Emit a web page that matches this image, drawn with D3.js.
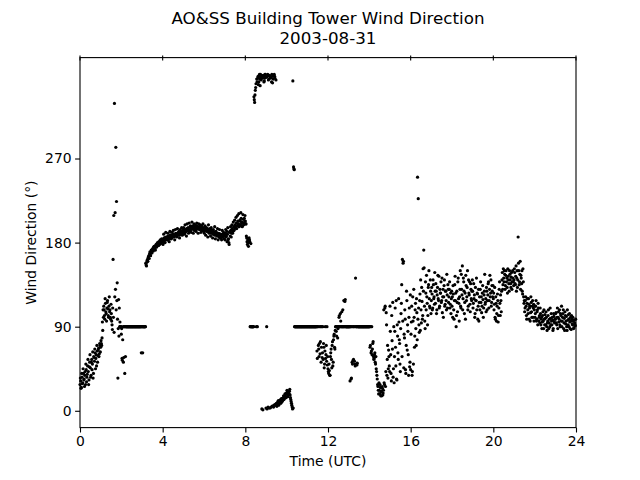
<!DOCTYPE html>
<html><head><meta charset="utf-8">
<script src="https://cdn.jsdelivr.net/npm/d3@7"></script>
<style>
body{margin:0;background:#fff}
svg{display:block}
text{font-family:"DejaVu Sans",sans-serif;fill:#000}
</style>
</head><body>
<svg id="chart" width="640" height="480"></svg>
<script>
const titleLines = ["AO&SS Building Tower Wind Direction", "2003-08-31"];
const xLabel = "Time (UTC)";
const yLabel = "Wind Direction (°)";
const xTicks = [0, 4, 8, 12, 16, 20, 24];
const yTicks = [0, 90, 180, 270];
const readingsPerHour = 30; // per series: even-minute and odd-minute readings

// wind direction (degrees), even-minute readings, grouped by 4-hour blocks
const evenMin00to04 = [
  28,32,25,36,30,40,34,38,28,44,36,48,42,33,52,46,38,55,50,35,58,53,62,56,48,64,59,67,61,70,
  68,72,78,86,100,108,98,115,104,110,118,102,112,106,100,114,96,87,162,209,329,212,282,224,137,35,119,110,95,90,
  82,56,76,52,90,40,58,90,90,90,90,90,90,90,90,90,90,90,90,90,90,90,90,90,90,90,90,90,90,62,
  90,62,90,90,90,90,156,159,162,164,166,168,167,170,172,171,174,175,173,176,177,175,178,179,177,180,181,179,182,181
];
const evenMin04to08 = [
  182,184,181,185,183,186,184,183,187,185,184,188,186,185,187,189,186,188,187,190,188,187,189,191,188,190,189,192,190,191,
  191,193,190,194,192,195,193,196,194,192,197,195,194,196,198,195,193,197,196,194,198,196,195,197,194,196,198,195,193,196,
  195,193,196,194,192,195,193,191,194,192,190,193,191,189,192,190,188,191,189,187,190,188,186,189,187,185,188,186,189,187,
  188,190,186,192,189,183,180,191,187,193,190,195,192,197,194,199,196,201,198,203,200,197,204,199,206,202,198,205,201,203
];
const evenMin08to12 = [
  203,200,185,178,182,180,183,90,179,90,90,90,90,333,338,346,90,352,356,349,358,355,360,354,2,357,359,352,356,360,
  3,90,358,4,355,359,3,357,352,5,358,4,360,356,6,8,5,9,11,8,10,12,9,13,11,14,12,15,17,14,
  18,20,16,19,21,17,12,8,4,353,261,258,90,90,90,90,90,90,90,90,90,90,90,90,90,90,90,90,90,90,
  90,90,90,90,90,90,90,90,90,90,90,90,90,90,64,90,70,58,90,74,52,90,62,55,68,50,90,60,53,49
];
const evenMin12to16 = [
  45,40,43,38,62,55,70,48,76,82,66,90,85,90,78,90,100,90,104,90,106,90,90,118,90,119,90,90,90,90,
  90,90,32,90,35,52,90,55,90,50,142,90,49,90,90,90,90,90,90,90,90,90,90,90,90,90,90,90,90,90,
  90,68,90,64,60,72,58,56,62,50,45,38,28,22,30,18,25,20,16,24,19,108,28,112,42,92,55,35,65,48,
  112,60,32,75,116,45,30,85,68,118,33,80,55,95,72,42,104,135,162,158,46,78,98,40,128,65,85,38,110,52
];
const evenMin16to20 = [
  44,95,38,122,50,100,80,115,70,105,250,227,92,118,86,108,132,98,152,172,112,88,126,145,115,102,135,120,110,128,
  118,125,110,135,122,148,115,128,108,132,120,144,112,126,138,118,105,130,122,140,114,128,108,124,135,116,130,110,126,120,
  112,100,125,98,135,118,90,128,106,142,115,122,150,110,130,155,120,138,104,126,145,118,132,108,140,124,114,136,120,128,
  128,115,120,100,132,118,108,125,112,96,122,130,116,105,126,119,110,128,114,120,132,108,124,138,118,145,126,112,134,122
];
const evenMin20to24 = [
  120,108,132,98,115,104,125,95,110,138,102,118,128,148,135,142,150,130,145,138,132,152,140,128,146,136,143,130,150,138,
  140,148,135,155,142,132,186,150,138,160,145,136,128,152,122,118,110,122,102,115,108,120,98,112,105,116,100,118,110,96,
  112,104,118,98,108,115,96,102,110,92,100,95,106,88,98,103,92,100,86,96,108,94,90,99,104,92,97,88,101,94,
  98,105,92,110,100,95,108,90,102,112,96,104,88,99,106,93,101,86,97,103,90,95,100,87,98,92,96,89,94,91
];

// wind direction (degrees), odd-minute readings
const oddMin00to04 = [
  35,24,40,29,45,33,26,42,50,31,39,55,28,47,60,36,52,44,63,40,57,66,45,60,70,52,65,58,72,63,
  75,70,95,108,112,102,120,106,96,116,109,100,122,108,98,104,92,110,100,84,122,130,108,118,98,88,80,90,90,90,
  88,54,90,57,90,90,90,90,90,90,90,90,90,90,90,90,90,90,90,90,90,90,90,90,90,90,90,90,90,90,
  90,90,90,90,90,158,155,161,160,165,163,170,166,172,169,173,171,176,174,172,178,176,180,177,181,178,183,180,184,182
];
const oddMin04to08 = [
  178,189,185,180,191,186,183,190,187,181,192,188,184,191,186,193,188,183,194,190,186,195,189,192,185,194,190,196,188,193,
  196,189,199,192,187,200,195,190,201,193,198,191,202,196,190,200,194,199,192,201,196,190,200,194,199,191,198,193,200,192,
  190,198,188,196,193,186,199,190,195,187,196,192,185,194,189,197,184,192,188,195,183,190,194,185,189,183,193,186,191,184,
  183,194,187,181,196,184,178,192,197,186,199,190,202,193,204,196,207,195,209,200,211,198,203,212,201,197,210,199,206,209
];
const oddMin08to12 = [
  200,187,181,184,176,185,181,90,90,90,90,90,336,330,343,350,355,90,358,352,360,348,357,359,356,1,358,353,360,357,
  357,2,360,354,3,358,356,4,360,351,355,6,358,7,354,5,7,10,6,9,11,8,13,10,12,16,13,18,15,19,
  22,15,20,18,23,14,10,6,2,3,259,90,90,90,90,90,90,90,90,90,90,90,90,90,90,90,90,90,90,90,
  90,90,90,90,90,90,90,90,90,90,90,90,90,90,56,90,66,72,61,90,68,57,90,72,46,64,56,70,90,58
];
const oddMin12to16 = [
  42,50,38,58,66,46,74,52,80,68,86,90,80,90,88,90,102,90,96,90,90,108,90,90,117,90,90,90,90,90,
  90,90,90,34,90,50,54,90,53,48,90,90,51,90,90,90,90,90,90,90,90,90,90,90,90,90,90,90,90,90,
  90,70,62,90,66,74,55,60,52,58,42,34,26,18,22,28,16,21,26,17,22,30,110,26,105,38,70,45,58,42,
  85,40,102,66,36,90,58,110,48,34,92,62,120,76,50,88,115,58,96,160,82,108,44,70,118,92,60,100,47,124
];
const oddMin16to20 = [
  82,112,42,96,130,68,108,88,120,76,98,110,84,125,140,94,117,102,128,153,96,138,108,122,92,132,150,112,140,104,
  132,108,140,120,114,128,136,104,124,145,118,110,130,126,116,142,122,100,134,112,128,118,146,110,130,122,138,114,104,128,
  122,134,108,118,144,126,102,116,138,120,96,130,112,146,124,108,142,128,116,98,134,122,150,112,126,138,106,130,118,140,
  110,136,124,104,118,142,126,98,130,116,108,138,122,112,134,100,124,146,116,106,128,118,136,110,130,122,140,116,128,134
];
const oddMin20to24 = [
  126,114,100,122,96,112,118,102,130,115,124,106,140,130,152,138,146,134,150,142,126,144,136,150,140,132,148,138,142,134,
  152,136,144,128,150,140,158,135,146,130,142,150,125,138,115,106,118,112,98,120,104,114,110,96,122,106,112,100,114,108,
  100,112,96,106,92,110,100,94,104,98,88,102,96,108,92,99,106,90,94,102,88,98,110,92,96,100,86,104,95,98,
  104,94,100,88,106,98,92,104,96,90,100,108,94,86,102,96,90,108,92,98,104,88,96,102,93,100,88,97,92,98
];

const blockStarts = [0, 4, 8, 12, 16, 20];
const evenBlocks = [evenMin00to04, evenMin04to08, evenMin08to12, evenMin12to16, evenMin16to20, evenMin20to24];
const oddBlocks = [oddMin00to04, oddMin04to08, oddMin08to12, oddMin12to16, oddMin16to20, oddMin20to24];

const points = [];
[[evenBlocks, 0], [oddBlocks, 0.5]].forEach(([blocks, offset]) => {
  blocks.forEach((vals, b) => {
    vals.forEach((v, i) => points.push({t: blockStarts[b] + (i + offset) / readingsPerHour, d: v}));
  });
});

const svg = d3.select("#chart");
const L = 80, R = 576, T = 57.6, B = 427.6;
const x = d3.scaleLinear().domain([0, 24]).range([L, R]);
const y = d3.scaleLinear().domain([-18, 378]).range([B, T]);

// points
svg.append("g").selectAll("circle").data(points).enter().append("circle")
  .attr("cx", p => x(p.t)).attr("cy", p => y(p.d)).attr("r", 1.6).attr("fill", "#000");

// bottom axis
const xAxis = svg.append("g").attr("transform", `translate(0,${B})`)
  .call(d3.axisBottom(x).tickValues(xTicks).tickFormat(d3.format("d")).tickSize(4.9).tickPadding(3.5));
xAxis.select(".domain").remove();
xAxis.selectAll("text").attr("font-size", "13.9px").attr("font-family", "DejaVu Sans");
xAxis.selectAll("line").attr("stroke-width", 1.1);

// left axis
const yAxis = svg.append("g").attr("transform", `translate(${L},0)`)
  .call(d3.axisLeft(y).tickValues(yTicks).tickFormat(d3.format("d")).tickSize(4.9).tickPadding(3.5));
yAxis.select(".domain").remove();
yAxis.selectAll("text").attr("font-size", "13.9px").attr("font-family", "DejaVu Sans");
yAxis.selectAll("line").attr("stroke-width", 1.1);

// top ticks
svg.append("g").selectAll("line").data(xTicks).enter().append("line")
  .attr("x1", d => x(d)).attr("x2", d => x(d))
  .attr("y1", T - 2).attr("y2", T + 3)
  .attr("stroke", "#000").attr("stroke-width", 1.1);

// frame
svg.append("rect").attr("x", L).attr("y", T).attr("width", R - L).attr("height", B - T)
  .attr("fill", "none").attr("stroke", "#000").attr("stroke-width", 1.1);

// titles
svg.append("text").attr("x", (L + R) / 2).attr("y", 24).attr("text-anchor", "middle")
  .attr("font-size", "16.7px").text(titleLines[0]);
svg.append("text").attr("x", (L + R) / 2).attr("y", 44).attr("text-anchor", "middle")
  .attr("font-size", "16.7px").text(titleLines[1]);

svg.append("text").attr("x", (L + R) / 2).attr("y", 466).attr("text-anchor", "middle")
  .attr("font-size", "13.9px").text(xLabel);
svg.append("text").attr("transform", `translate(36,${(T + B) / 2}) rotate(-90)`)
  .attr("text-anchor", "middle").attr("font-size", "13.9px").text(yLabel);
</script>
</body></html>
